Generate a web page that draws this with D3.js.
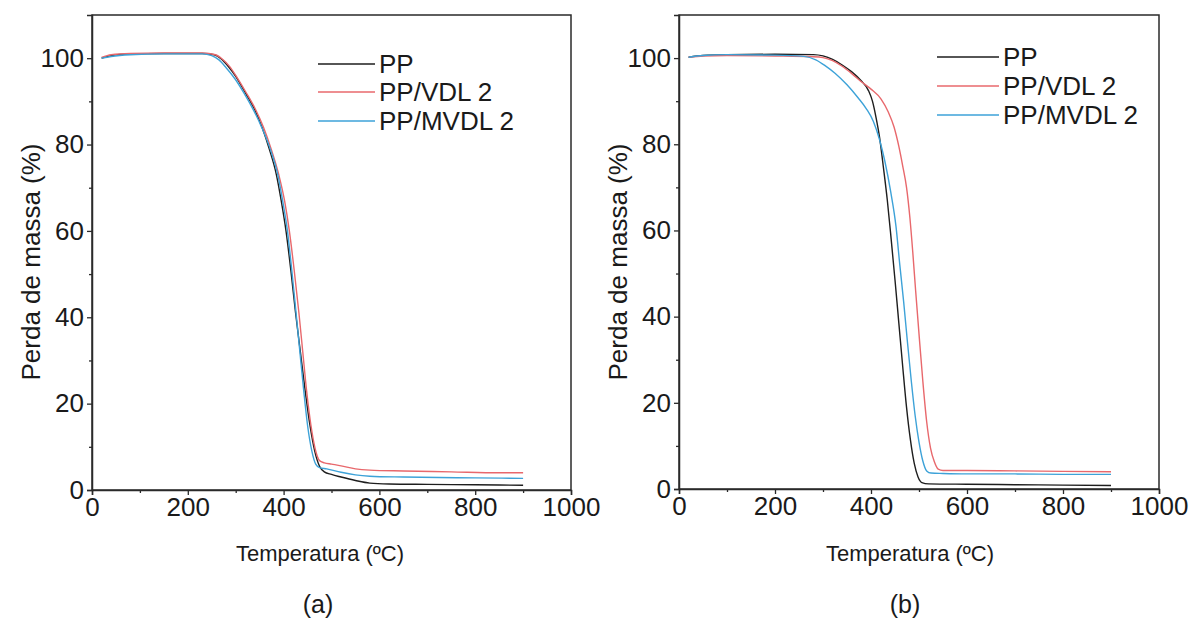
<!DOCTYPE html>
<html>
<head>
<meta charset="utf-8">
<script src="https://cdn.jsdelivr.net/npm/d3@7"></script>
<style>
  html, body { margin: 0; padding: 0; background: #fff; }
  svg { display: block; }
  text { font-family: "Liberation Sans", Arial, sans-serif; fill: #1a1a1a; }
</style>
</head>
<body>
<svg id="chart" width="1191" height="628"></svg>
<script>
// Thermogravimetric curves: mass (%) against temperature (°C)
const tempTicks = [0, 200, 400, 600, 800, 1000];
const tempMinorTicks = [100, 300, 500, 700, 900];
const massTicks = [0, 20, 40, 60, 80, 100];
const massMinorTicks = [10, 30, 50, 70, 90];
const seriesNames = ["PP", "PP/VDL 2", "PP/MVDL 2"];
const seriesColors = ["#1e1e1e", "#e8686c", "#3da2d8"];
const panelLabels = ["(a)", "(b)"];
const xTitle = "Temperatura (ºC)";
const yTitle = "Perda de massa (%)";

// Panel (a)
const ppA = [[20,100.0],[40,100.6],[80,101.0],[150,101.1],[230,101.1],[255,100.8],[270,99.8],[285,98.0],[300,95.8],[320,92],[340,88],[355,84],[370,79],[385,73],[395,67],[405,60],[415,51],[425,41],[435,32],[445,23],[455,15],[465,9],[475,5.5],[485,4.2],[500,3.6],[520,3.0],[550,2.2],[580,1.6],[620,1.4],[700,1.3],[800,1.2],[900,1.1]];
const vdlA = [[20,100.2],[40,100.8],[80,101.1],[150,101.2],[230,101.2],[258,100.8],[272,99.8],[288,98],[303,95.5],[322,92],[342,88],[358,84],[374,79],[390,73],[402,67],[412,60],[422,51],[432,41],[440,32],[448,23],[457,15],[466,9.5],[475,6.8],[485,6.3],[500,6.0],[520,5.6],[550,4.9],[580,4.6],[650,4.4],[750,4.2],[850,4.0],[900,4.0]];
const mvdlA = [[20,100.0],[40,100.4],[80,100.8],[150,101.0],[230,101.0],[250,100.6],[265,99.6],[280,97.8],[298,95.3],[318,91.8],[338,87.8],[355,83.8],[372,79],[388,73],[398,67],[408,60],[417,51],[426,41],[434,32],[442,23],[450,15],[459,9],[467,6],[475,5.2],[490,4.9],[520,4.1],[550,3.5],[580,3.2],[650,3.0],[800,2.8],[900,2.7]];

// Panel (b)
const ppB = [[20,100.2],[50,100.6],[100,100.8],[200,100.9],[280,100.8],[300,100.5],[320,99.7],[340,98.4],[360,96.8],[380,94.7],[395,92.4],[403,90],[410,86.5],[418,81.5],[426,74.5],[434,67],[442,58],[450,48.5],[458,38.5],[466,28.5],[474,19],[482,11.5],[490,6],[498,2.8],[506,1.5],[520,1.2],[600,1.1],[700,1.0],[800,0.9],[900,0.8]];
const vdlB = [[20,100.2],[50,100.5],[100,100.6],[200,100.5],[280,100.3],[300,100.1],[320,99.4],[340,98.1],[360,96.4],[380,94.5],[400,92.8],[421,90.5],[436,87.5],[448,84],[458,79.5],[466,75],[474,70],[481,63],[487,55],[493,46],[500,36],[508,25],[516,15.6],[524,9.5],[532,6.3],[540,4.6],[550,4.3],[600,4.3],[700,4.2],[800,4.1],[900,4.0]];
const mvdlB = [[20,100.2],[50,100.6],[100,100.8],[200,100.7],[260,100.4],[285,99.6],[305,98.2],[325,96.5],[350,93.8],[373,90.8],[390,88.3],[405,85.3],[418,81],[429,76],[441,69],[452,61],[460,52],[468,43.5],[476,34],[484,25],[492,17],[500,10.9],[508,6.5],[516,4.2],[525,3.7],[550,3.6],[600,3.5],[700,3.5],[800,3.4],[900,3.4]];

const panels = [
  { series: [ppA, vdlA, mvdlA], x0: 92, x1: 571, yBottom: 490, yTop: 15,
    legendX: 318, legendLen: 57, legendY: [64, 92, 121],
    xTitleX: 320, yTitleX: 31, labelX: 318 },
  { series: [ppB, vdlB, mvdlB], x0: 679, x1: 1159, yBottom: 489, yTop: 15,
    legendX: 937, legendLen: 62, legendY: [57, 86, 115],
    xTitleX: 910, yTitleX: 618, labelX: 905 }
];

const svg = d3.select("#chart");
const axisColor = "#2a2a2a";

panels.forEach((p, i) => {
  const x = d3.scaleLinear().domain([0, 1000]).range([p.x0, p.x1]);
  const y = d3.scaleLinear().domain([0, 110]).range([p.yBottom, p.yTop]);
  const g = svg.append("g");

  // frame
  g.append("rect")
    .attr("x", p.x0).attr("y", p.yTop)
    .attr("width", p.x1 - p.x0).attr("height", p.yBottom - p.yTop)
    .attr("fill", "none").attr("stroke", axisColor).attr("stroke-width", 1.5);

  // minor ticks
  g.append("g").attr("transform", `translate(0,${p.yBottom})`)
    .call(d3.axisBottom(x).tickValues(tempMinorTicks).tickSize(3).tickFormat(""))
    .call(a => a.select(".domain").remove());
  g.append("g").attr("transform", `translate(${p.x0},0)`)
    .call(d3.axisLeft(y).tickValues(massMinorTicks).tickSize(3).tickFormat(""))
    .call(a => a.select(".domain").remove());

  // major ticks with labels
  const xa = g.append("g").attr("transform", `translate(0,${p.yBottom})`)
    .call(d3.axisBottom(x).tickValues(tempTicks).tickSize(5).tickPadding(3).tickFormat(d3.format("d")));
  const ya = g.append("g").attr("transform", `translate(${p.x0},0)`)
    .call(d3.axisLeft(y).tickValues(massTicks).tickSize(5).tickPadding(3).tickFormat(d3.format("d")));
  [xa, ya].forEach(a => {
    a.select(".domain").attr("stroke", axisColor).attr("stroke-width", 1.5);
    a.selectAll(".tick text").style("font-size", "26px").attr("fill", "#1a1a1a")
      .style("font-family", "'Liberation Sans', Arial, sans-serif");
  });
  g.selectAll(".tick line").attr("stroke", axisColor).attr("stroke-width", 1.3);

  // curves
  const line = d3.line().x(d => x(d[0])).y(d => y(d[1])).curve(d3.curveMonotoneX);
  p.series.forEach((s, k) => {
    g.append("path").datum(s)
      .attr("d", line)
      .attr("fill", "none")
      .attr("stroke", seriesColors[k])
      .attr("stroke-width", 1.4)
      .attr("stroke-linejoin", "round");
  });

  // legend
  seriesNames.forEach((name, k) => {
    const ly = p.legendY[k];
    g.append("line")
      .attr("x1", p.legendX).attr("x2", p.legendX + p.legendLen)
      .attr("y1", ly).attr("y2", ly)
      .attr("stroke", seriesColors[k]).attr("stroke-width", 1.4);
    g.append("text")
      .attr("x", p.legendX + p.legendLen + 4).attr("y", ly + 9)
      .style("font-size", "26px")
      .text(name);
  });

  // axis titles
  g.append("text")
    .attr("x", p.xTitleX).attr("y", 561)
    .attr("text-anchor", "middle")
    .style("font-size", "22px")
    .text(xTitle);
  g.append("text")
    .attr("transform", `translate(${p.yTitleX},262) rotate(-90)`)
    .attr("text-anchor", "middle")
    .attr("dy", "0.35em")
    .style("font-size", "26px")
    .text(yTitle);

  // panel label
  g.append("text")
    .attr("x", p.labelX).attr("y", 613)
    .attr("text-anchor", "middle")
    .style("font-size", "25px")
    .text(panelLabels[i]);
});
</script>
</body>
</html>
